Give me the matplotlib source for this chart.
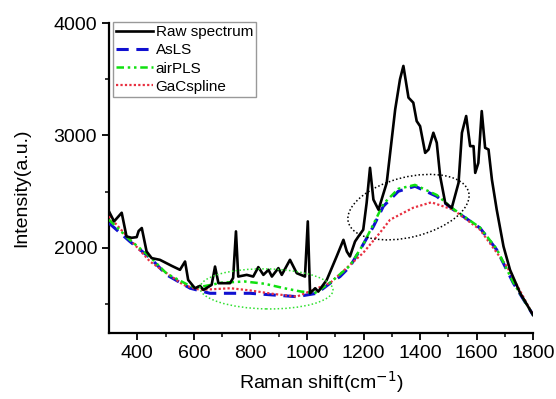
import matplotlib
matplotlib.use("Agg")
import matplotlib.pyplot as plt
from matplotlib.patches import Ellipse
from matplotlib.transforms import ScaledTranslation

plt.rcParams['font.family'] = ['Liberation Sans', 'DejaVu Sans']

# Raw spectrum
raw_x = [300, 318, 345, 362, 380, 398, 405, 416, 433, 451, 480, 522, 551, 569, 580, 604,
         622, 634, 663, 675, 687, 728, 739, 749, 757, 787, 810, 828, 846, 864, 876, 899,
         911, 940, 964, 993, 1003, 1011, 1029, 1040, 1070, 1105, 1129, 1141, 1152, 1170,
         1182, 1199, 1211, 1223, 1235, 1253, 1282, 1312, 1329, 1341, 1359, 1376, 1388,
         1400, 1418, 1430, 1447, 1459, 1471, 1489, 1512, 1536, 1548, 1563, 1577, 1589,
         1595, 1606, 1618, 1630, 1642, 1654, 1671, 1695, 1718, 1754, 1800]
raw_y = [2324, 2235, 2312, 2101, 2089, 2095, 2150, 2176, 1967, 1908, 1893, 1839, 1804, 1878,
         1714, 1640, 1661, 1625, 1670, 1833, 1685, 1685, 1732, 2146, 1744, 1759, 1744, 1828,
         1759, 1804, 1744, 1819, 1759, 1893, 1774, 1744, 2235, 1595, 1640, 1610, 1714, 1923,
         2071, 1967, 1923, 2056, 2101, 2161, 2399, 2712, 2429, 2339, 2578, 3232, 3500, 3619,
         3337, 3292, 3128, 3083, 2845, 2875, 3024, 2935, 2637, 2399, 2355, 2578, 3024, 3173,
         2905, 2905, 2667, 2756, 3217, 2890, 2875, 2607, 2339, 2012, 1804, 1595, 1400]

# AsLS baseline
asls_x = [300, 374, 445, 504, 587, 657, 730, 799, 880, 964, 1035, 1082, 1117, 1152, 1188,
          1235, 1270, 1323, 1382, 1459, 1518, 1612, 1671, 1730, 1800]
asls_y = [2220, 2056, 1911, 1759, 1640, 1595, 1595, 1595, 1580, 1565, 1595, 1685, 1744, 1833,
          1982, 2190, 2369, 2503, 2548, 2458, 2339, 2176, 1982, 1685, 1400]

# airPLS baseline
airpls_x = [300, 374, 445, 504, 587, 620, 700, 780, 850, 920, 980, 1030, 1082, 1152, 1199,
            1235, 1270, 1323, 1382, 1459, 1518, 1612, 1671, 1730, 1800]
airpls_y = [2250, 2070, 1920, 1770, 1660, 1650, 1690, 1700, 1680, 1640, 1610, 1600, 1690,
            1840, 2030, 2210, 2390, 2525, 2560, 2470, 2345, 2180, 1990, 1690, 1400]

# GaCspline baseline
gac_x = [300, 445, 563, 622, 730, 800, 880, 964, 1082, 1199, 1258, 1294, 1376, 1440, 1517,
         1612, 1707, 1800]
gac_y = [2280, 1878, 1670, 1625, 1640, 1620, 1590, 1565, 1687, 1955, 2134, 2250, 2357, 2405,
         2339, 2161, 1833, 1400]

x_ticks = [400, 600, 800, 1000, 1200, 1400, 1600, 1800]
y_ticks = [2000, 3000, 4000]

fig = plt.figure(figsize=(5.56, 3.99), dpi=100)
ax = fig.add_axes([0.196, 0.165, 0.763, 0.777])

ax.plot(asls_x, asls_y, color='#1010d0', lw=2.2, ls=(0, (4, 2.5)), label='AsLS', zorder=3)
ax.plot(airpls_x, airpls_y, color='#10e010', lw=1.8, ls=(0, (3, 1.5, 1, 1.5, 1, 1.5)),
        label='airPLS', zorder=4)
ax.plot(gac_x, gac_y, color='#e83040', lw=1.6, ls=(0, (1, 1)), label='GaCspline', zorder=3)
ax.plot(raw_x, raw_y, color='black', lw=1.9, label='Raw spectrum', zorder=5)

# annotation ellipses (sized in inches, centred in data space)
e1 = Ellipse((0, 0), 1.24, 0.60, angle=14, fill=False, ec='black', lw=1.1, ls=(0, (1, 1.5)),
             transform=fig.dpi_scale_trans + ScaledTranslation(1359, 2362, ax.transData), zorder=6)
e2 = Ellipse((0, 0), 1.33, 0.40, angle=-1, fill=False, ec='#30e030', lw=1.1, ls=(0, (1, 1.5)),
             transform=fig.dpi_scale_trans + ScaledTranslation(857, 1634, ax.transData), zorder=6)
ax.add_patch(e1)
ax.add_patch(e2)

ax.set_xlim(300, 1800)
ax.set_ylim(1240, 4000)
ax.set_xticks(x_ticks)
ax.set_yticks(y_ticks)
ax.set_xticks([500, 700, 900, 1100, 1300, 1500, 1700], minor=True)
ax.set_yticks([1500, 2500, 3500], minor=True)
ax.tick_params(axis='both', which='major', direction='out', length=5, width=1.3, labelsize=14)
ax.tick_params(axis='both', which='minor', direction='out', length=3, width=1.1)

for s in ['top', 'right']:
    ax.spines[s].set_visible(False)
for s in ['left', 'bottom']:
    ax.spines[s].set_linewidth(1.6)

ax.set_xlabel('Raman shift(cm$^{-1}$)', fontsize=14, labelpad=5)
ax.set_ylabel('Intensity(a.u.)', fontsize=14)
ax.yaxis.set_label_coords(-0.186, 0.47)

h, l = ax.get_legend_handles_labels()
order = [3, 0, 1, 2]
leg = ax.legend([h[i] for i in order], [l[i] for i in order], loc='upper left',
                bbox_to_anchor=(0.009, 1.003), fontsize=11, frameon=True, fancybox=False,
                edgecolor='#808080', borderpad=0.2, labelspacing=0.27, handlelength=2.4,
                handletextpad=0.2, borderaxespad=0.0)
leg.get_frame().set_linewidth(1.0)

fig.savefig('out.png', dpi=100)
